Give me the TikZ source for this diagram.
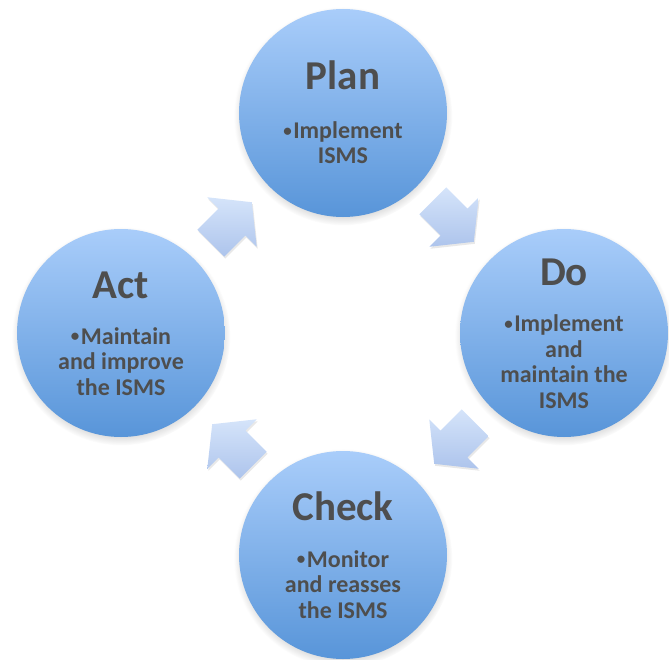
\documentclass[tikz,border=0pt]{standalone}
\usepackage{fontspec}
\setmainfont{Carlito}
\usetikzlibrary{shadows}

\definecolor{circtop}{HTML}{A9CDFA}
\definecolor{circbot}{HTML}{5895D9}
\definecolor{arrtop}{HTML}{D5E4FA}
\definecolor{arrbot}{HTML}{ADC4EC}
\definecolor{txtgray}{HTML}{4E4E4E}

\def\rad{104pt}
\def\off{111}
\def\ttl{\fontsize{41}{44}\selectfont\bfseries}
\def\bdy{\fontsize{24}{25.5}\selectfont\bfseries}
\def\bul{\raisebox{2.5pt}{\fontsize{17}{17}\selectfont\textbullet}\kern1.5pt}

\begin{document}
\begin{tikzpicture}[x=1pt,y=1pt,
    phase/.style={circle, minimum size=2*\rad, inner sep=0pt,
      top color=circtop, bottom color=circbot,
      circular drop shadow={shadow xshift=0pt, shadow yshift=-3pt,
        shadow scale=1.05, opacity=0.45}},
    ptitle/.style={anchor=base, text=txtgray, font=\ttl},
    pbody/.style={anchor=base, align=center, text=txtgray, font=\bdy},
    cyclearrow/.pic={
      \shade[top color=arrtop, bottom color=arrbot,
        drop shadow={opacity=0.18, shadow xshift=1pt, shadow yshift=-2pt}]
      (-30,19) -- (0,19) -- (0,35) -- (28,0) -- (0,-35) -- (0,-19)
      -- (-30,-19) -- cycle;
    }
    ]
    \useasboundingbox (-343,-326) rectangle (326,333);
    \clip (-343,-326) rectangle (326,333);

    % arrows between the phases
    \foreach \ang/\dx/\dy in {-45/1/1,-135/1/-1,135/-1/-1,45/-1/1} {
      \pic[rotate=\ang] at (\dx*\off,\dy*\off) {cyclearrow};
    }

    % plan (body is placed by the baseline of its last line)
    \node[phase] (plan) at (0,220) {};
    \node[ptitle] (plantitle) at ([yshift=23pt]plan.center) {Plan};
    \node[pbody] (planbody) at ([yshift=-51pt]plan.center)
    {\bul Implement\\ISMS};

    % do
    \node[phase] (do) at (221,0) {};
    \node[ptitle] (dotitle) at ([yshift=48pt]do.center) {Do};
    \node[pbody] (dobody) at ([yshift=-75pt]do.center)
    {\bul Implement\\and\\maintain the\\ISMS};

    % check
    \node[phase] (check) at (0,-222) {};
    \node[ptitle] (checktitle) at ([yshift=35pt]check.center) {Check};
    \node[pbody] (checkbody) at ([yshift=-63pt]check.center)
    {\bul Monitor\\and reasses\\the ISMS};

    % act
    \node[phase] (act) at (-222,0) {};
    \node[ptitle] (acttitle) at ([yshift=35pt]act.center) {Act};
    \node[pbody] (actbody) at ([yshift=-62pt]act.center)
    {\bul Maintain\\and improve\\the ISMS};
\end{tikzpicture}
\end{document}
